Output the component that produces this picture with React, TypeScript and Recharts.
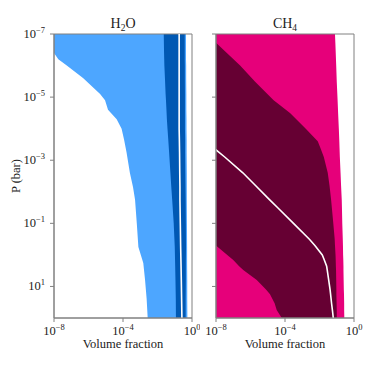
import * as React from "react";
import {
  Area,
  ComposedChart,
  Line,
  ReferenceArea,
  XAxis,
  YAxis,
} from "recharts";

// Retrieved profiles, volume fraction vs pressure (bar).

const H2O_P = [
  1e-7, 4e-7, 6.3e-7, 1e-6, 2.5e-6, 7.9e-6, 1.26e-5, 2.5e-5, 5e-5, 1e-4,
  2.2e-4, 5.6e-4, 2.5e-3, 7e-3, 1.8e-2, 0.1, 0.56, 1.8, 6.3, 25, 100,
];
const H2O_OUTER_LO = [
  1e-9, 1e-8, 1.78e-8, 5.5e-8, 4.8e-7, 4.7e-6, 9.1e-6, 1.35e-5, 4.3e-5,
  8.3e-5, 1.15e-4, 1.6e-4, 2.5e-4, 3.8e-4, 5e-4, 6.3e-4, 7.8e-4, 1.5e-3,
  1.9e-3, 2.35e-3, 2.7e-3,
];
const H2O_OUTER_HI = [
  0.45, 0.45, 0.45, 0.46, 0.46, 0.47, 0.47, 0.47, 0.48, 0.48, 0.49, 0.49,
  0.5, 0.5, 0.5, 0.51, 0.52, 0.52, 0.53, 0.53, 0.54,
];
const H2O_INNER_LO = [
  0.023, 0.024, 0.0245, 0.025, 0.027, 0.0295, 0.031, 0.033, 0.035, 0.038,
  0.042, 0.047, 0.056, 0.063, 0.071, 0.087, 0.1, 0.105, 0.11, 0.115, 0.117,
];
const H2O_INNER_HI = [
  0.38, 0.38, 0.38, 0.385, 0.385, 0.39, 0.39, 0.39, 0.39, 0.39, 0.4, 0.4,
  0.41, 0.42, 0.43, 0.44, 0.45, 0.44, 0.44, 0.43, 0.43,
];
const H2O_MEDIAN = [
  0.18, 0.18, 0.18, 0.18, 0.18, 0.18, 0.18, 0.18, 0.18, 0.18, 0.185, 0.19,
  0.195, 0.2, 0.2, 0.21, 0.22, 0.23, 0.24, 0.25, 0.26,
];

const CH4_P = [
  1e-7, 1.9e-7, 1e-6, 3.2e-6, 1.26e-5, 3.2e-5, 1e-4, 2.5e-4, 4e-4, 7.9e-4,
  2.5e-3, 6.3e-3, 1.8e-2, 3.2e-2, 0.1, 0.32, 0.5, 1, 1.45, 2.3, 3, 6.2, 12.6,
  17.8, 34, 56, 100,
];
const CH4_OUTER_LO = CH4_P.map(() => 1e-10); // off the left edge everywhere
const CH4_OUTER_HI = [
  0.079, 0.083, 0.093, 0.1, 0.112, 0.12, 0.132, 0.141, 0.145, 0.151, 0.166,
  0.178, 0.195, 0.2, 0.209, 0.224, 0.229, 0.234, 0.24, 0.245, 0.245, 0.251,
  0.257, 0.263, 0.269, 0.269, 0.275,
];
const CH4_INNER_LO = [
  1e-10, 1e-10, 1e-10, 1e-10, 1e-10, 1e-10, 1e-10, 1e-10, 1e-10, 1e-10,
  1e-10, 1e-10, 1e-10, 1e-10, 1e-10, 1e-10, 1e-8, 4.5e-8, 1e-7, 2.2e-7,
  3.8e-7, 2.3e-6, 7.9e-6, 1.35e-5, 2.5e-5, 3.3e-5, 6.5e-5,
];
const CH4_INNER_HI = [
  3e-9, 1e-8, 2.5e-7, 1.8e-6, 2.2e-5, 1.95e-4, 1.6e-3, 7.9e-3, 0.0112,
  0.0178, 0.03, 0.038, 0.047, 0.052, 0.063, 0.076, 0.079, 0.085, 0.087,
  0.089, 0.091, 0.093, 0.095, 0.095, 0.098, 0.1, 0.1,
];
const CH4_MEDIAN = [
  null, null, null, null, null, null, null, null, 7e-9, 3.2e-8, 3.6e-7,
  1.95e-6, 1.3e-5, 3.8e-5, 3.1e-4, 2.6e-3, 5.4e-3, 0.0145, 0.019, 0.026,
  0.028, 0.034, 0.041, 0.044, 0.05, 0.056, 0.063,
];

const X_TICKS = [1e-8, 1e-4, 1];
const Y_TICKS = [1e-7, 1e-5, 1e-3, 1e-1, 10];

const FONT = '"Liberation Serif", "DejaVu Serif", serif';
const SPINE = "#808080";
const INK = "#222";

const h2oRows = H2O_P.map((p, i) => ({
  p,
  outer: [H2O_OUTER_LO[i], H2O_OUTER_HI[i]],
  inner: [H2O_INNER_LO[i], H2O_INNER_HI[i]],
  median: H2O_MEDIAN[i],
}));

const ch4Rows = CH4_P.map((p, i) => ({
  p,
  outer: [CH4_OUTER_LO[i], CH4_OUTER_HI[i]],
  inner: [CH4_INNER_LO[i], CH4_INNER_HI[i]],
  median: CH4_MEDIAN[i],
}));

function expLabel(v: number) {
  const e = Math.round(Math.log10(v));
  return e < 0 ? "\u2212" + -e : String(e);
}

function XTick({ x, y, payload }: any) {
  return (
    <text x={x} y={y + 11} textAnchor="middle" fontFamily={FONT} fontSize={12.5} fill={INK}>
      <tspan>10</tspan>
      <tspan dy={-5} fontSize={8.5}>{expLabel(payload.value)}</tspan>
    </text>
  );
}

function YTick({ x, y, payload }: any) {
  return (
    <text x={x - 3} y={y + 4} textAnchor="end" fontFamily={FONT} fontSize={12.5} fill={INK}>
      <tspan>10</tspan>
      <tspan dy={-5} fontSize={8.5}>{expLabel(payload.value)}</tspan>
    </text>
  );
}

const NoTick = () => <g />;

function Panel({
  rows,
  outer,
  inner,
  showYLabels,
  width,
  marginRight,
  yAxisWidth,
}: {
  rows: any[];
  outer: string;
  inner: string;
  showYLabels: boolean;
  width: number;
  marginRight: number;
  yAxisWidth: number;
}) {
  return (
    <ComposedChart
      width={width}
      height={374}
      data={rows}
      layout="vertical"
      margin={{ top: 34, right: marginRight, bottom: 26, left: 0 }}
    >
      <XAxis
        type="number"
        scale="log"
        domain={[1e-8, 1]}
        allowDataOverflow
        ticks={X_TICKS}
        tick={<XTick />}
        tickSize={4}
        height={30}
        axisLine={{ stroke: SPINE }}
        tickLine={{ stroke: SPINE }}
      />
      <YAxis
        type="number"
        dataKey="p"
        scale="log"
        domain={[1e-7, 100]}
        allowDataOverflow
        ticks={Y_TICKS}
        tick={showYLabels ? <YTick /> : <NoTick />}
        tickSize={4}
        width={yAxisWidth}
        axisLine={{ stroke: SPINE }}
        tickLine={{ stroke: SPINE }}
      />
      <Area
        dataKey="outer"
        fill={outer}
        fillOpacity={1}
        stroke="none"
        type="linear"
        isAnimationActive={false}
      />
      <Area
        dataKey="inner"
        fill={inner}
        fillOpacity={1}
        stroke="none"
        type="linear"
        isAnimationActive={false}
      />
      <Line
        dataKey="median"
        stroke="#ffffff"
        strokeWidth={1.6}
        dot={false}
        type="linear"
        isAnimationActive={false}
      />
      <ReferenceArea
        x1={1e-8}
        x2={1}
        y1={1e-7}
        y2={100}
        fill="none"
        stroke={SPINE}
        strokeWidth={1}
        ifOverflow="visible"
      />
    </ComposedChart>
  );
}

export default function App() {
  return (
    <div
      style={{
        position: "absolute",
        left: 0,
        top: 0,
        width: 374,
        height: 374,
        background: "#fff",
        fontFamily: FONT,
      }}
    >
      <svg width={374} height={374} style={{ position: "absolute", left: 0, top: 0 }}>
        <text x={123} y={28} textAnchor="middle" fontSize={14} fill={INK} fontFamily={FONT}>
          H<tspan dy={3} fontSize={9.5}>2</tspan>
          <tspan dy={-3}>O</tspan>
        </text>
        <text x={285} y={28} textAnchor="middle" fontSize={14} fill={INK} fontFamily={FONT}>
          CH<tspan dy={3} fontSize={9.5}>4</tspan>
        </text>
        <text
          x={0}
          y={0}
          transform="translate(20,176) rotate(-90)"
          textAnchor="middle"
          fontSize={12.5}
          fill={INK}
          fontFamily={FONT}
        >
          P (bar)
        </text>
        <text x={123} y={348} textAnchor="middle" fontSize={12.5} fill={INK} fontFamily={FONT}>
          Volume fraction
        </text>
        <text x={285} y={348} textAnchor="middle" fontSize={12.5} fill={INK} fontFamily={FONT}>
          Volume fraction
        </text>
      </svg>
      <div style={{ position: "absolute", left: 0, top: 0 }}>
        <Panel
          rows={h2oRows}
          outer="#4da6ff"
          inner="#0058b3"
          showYLabels
          width={200}
          marginRight={8}
          yAxisWidth={54}
        />
      </div>
      <div style={{ position: "absolute", left: 200, top: 0 }}>
        <Panel
          rows={ch4Rows}
          outer="#e6007a"
          inner="#660033"
          showYLabels={false}
          width={174}
          marginRight={20}
          yAxisWidth={16}
        />
      </div>
    </div>
  );
}
